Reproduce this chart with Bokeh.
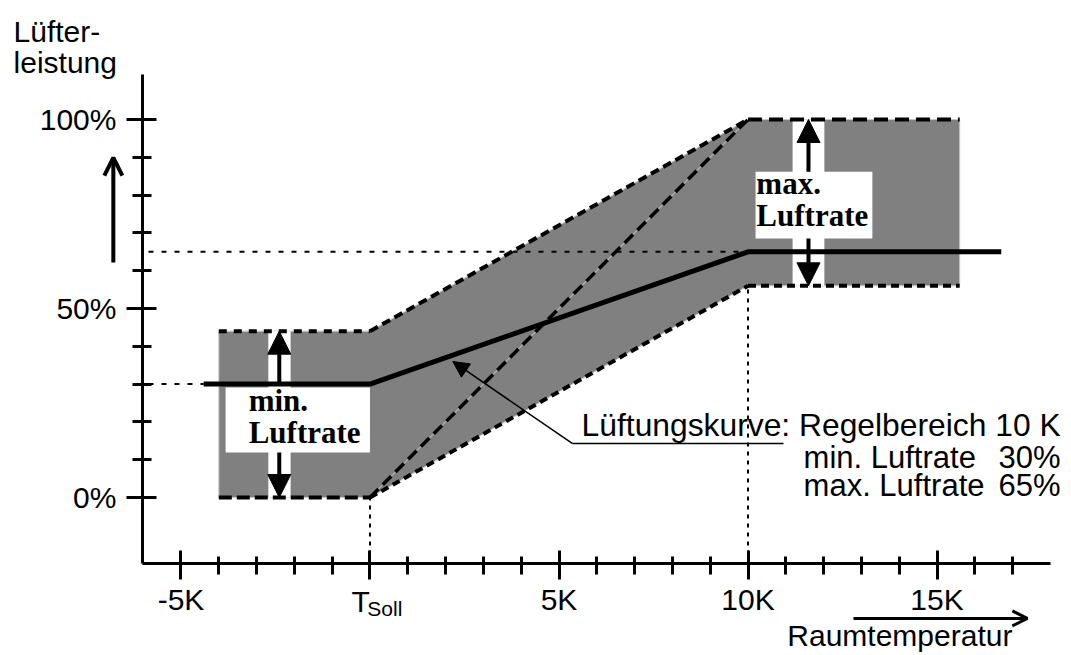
from bokeh.plotting import figure
from bokeh.models import (FixedTicker, Label, Arrow, NormalHead, OpenHead, Range1d)
from bokeh.embed import file_html
from bokeh.resources import INLINE

# ---- data ----
band_x = [-4, -4, 0, 10, 15.6, 15.6, 10, 0]          # control band (K)
band_y = [0, 44, 44, 100, 100, 56, 56, 0]             # fan power (%)
curve_x = [-4.4, 0, 10, 16.7]                          # ventilation curve
curve_y = [30, 30, 65, 65]
diag_x = [0, 10]                                       # steepest curve
diag_y = [0, 100]
min_rate = 30
max_rate = 65
x_major = [-5, 0, 5, 10, 15]
x_minor = [-4, -3, -2, -1, 1, 2, 3, 4, 6, 7, 8, 9, 11, 12, 13, 14, 16, 17]
x_labels = {-5: "-5K", 0: "", 5: "5K", 10: "10K", 15: "15K"}
y_major = [0, 50, 100]
y_minor = [10, 20, 30, 40, 60, 70, 80, 90]
y_labels = {0: "0%", 50: "50%", 100: "100%"}
x_axis_span = (-6.02, 18.0)
y_axis_span = (-17.46, 111.9)

SANS = "Liberation Sans"
SERIF = "Liberation Serif"

p = figure(width=1071, height=655, output_backend="svg", toolbar_location=None,
           x_range=Range1d(-9.775, 18.558), y_range=Range1d(-41.80, 131.48))
p.min_border = 0
p.min_border_left = 0
p.min_border_right = 0
p.min_border_top = 0
p.min_border_bottom = 0
p.outline_line_color = None
p.xgrid.visible = False
p.ygrid.visible = False
p.background_fill_color = "white"
p.border_fill_color = "white"

# axes (drawn at fixed positions inside the canvas)
xa = p.xaxis[0]
xa.ticker = FixedTicker(ticks=x_major, minor_ticks=x_minor)
xa.major_label_overrides = x_labels
xa.fixed_location = y_axis_span[0]
xa.bounds = x_axis_span
ya = p.yaxis[0]
ya.ticker = FixedTicker(ticks=y_major, minor_ticks=y_minor)
ya.major_label_overrides = y_labels
ya.fixed_location = x_axis_span[0]
ya.bounds = y_axis_span
for ax in (xa, ya):
    ax.axis_line_width = 3
    ax.axis_line_color = "black"
    ax.major_tick_line_width = 3
    ax.minor_tick_line_width = 3
    ax.major_tick_line_color = "black"
    ax.minor_tick_line_color = "black"
    ax.major_label_text_font = SANS
    ax.major_label_text_font_size = "30px"
    ax.major_label_text_color = "black"
xa.major_tick_in = 13
xa.major_tick_out = 16
xa.minor_tick_in = 7
xa.minor_tick_out = 11
xa.major_label_standoff = 4
ya.major_tick_in = 14
ya.major_tick_out = 16
ya.minor_tick_in = 9
ya.minor_tick_out = 10
ya.major_label_standoff = 10

# gray band
p.patch(band_x, band_y, fill_color="#808080", line_color="#c8c8c8", line_width=1)

# white boxes / strips behind arrows
p.quad(left=[-2.69, 11.18], right=[-2.10, 12.02], bottom=[0, 56], top=[44, 100],
       fill_color="white", line_color=None)
p.quad(left=[-3.82, 10.2], right=[0.0, 13.29], bottom=[11.9, 68.5], top=[29.1, 86.2],
       fill_color="white", line_color=None)

# dotted reference lines
p.line([-5.86, curve_x[0]], [min_rate, min_rate], line_color="black", line_width=2, line_dash="5 8")
p.line([-5.86, 10], [max_rate, max_rate], line_color="black", line_width=2, line_dash="5 8")
p.line([0, 0], [y_axis_span[0], 0], line_color="black", line_width=2, line_dash="4 5")
p.line([10, 10], [y_axis_span[0], 56], line_color="black", line_width=2, line_dash="4 5")

# dashed band edges
p.line(diag_x, diag_y, line_color="#d0d0d0", line_width=1)
p.line(diag_x, diag_y, line_color="black", line_width=3.5, line_dash="12 6")
p.line([-4, 0], [44, 44], line_color="black", line_width=4, line_dash="8 7")
p.line([0, 10], [44, 100], line_color="black", line_width=4, line_dash="9 5")
p.line([10, 15.6], [100, 100], line_color="black", line_width=4, line_dash="14 7")
p.line([-4, 0], [0, 0], line_color="black", line_width=4, line_dash="13 5")
p.line([0, 10], [0, 56], line_color="black", line_width=4, line_dash="8 5")
p.line([10, 15.6], [56, 56], line_color="black", line_width=4, line_dash="8 5")

# main curve
p.line(curve_x, curve_y, line_color="black", line_width=5)

# pointer underline
p.line([5.35, 10.94], [14.29, 14.29], line_color="black", line_width=1.5)

def arrow(x0, y0, x1, y1, size=23, lw=4):
    p.add_layout(Arrow(end=NormalHead(size=size, fill_color="black", line_color="black"),
                       x_start=x0, y_start=y0, x_end=x1, y_end=y1,
                       line_width=lw, line_color="black"))

# min / max arrows
arrow(-2.4, 30, -2.4, 44)
arrow(-2.4, 11.9, -2.4, 0)
arrow(11.6, 86.2, 11.6, 100)
arrow(11.6, 68.5, 11.6, 56)
# pointer arrow
p.add_layout(Arrow(end=NormalHead(size=16, fill_color="black", line_color="black"),
                   x_start=5.35, y_start=14.29, x_end=2.19, y_end=35.98,
                   line_width=1.5, line_color="black"))
# axis direction arrows
p.add_layout(Arrow(end=OpenHead(size=18, line_width=4, line_color="black"),
                   x_start=-6.79, y_start=62.2, x_end=-6.79, y_end=89.9,
                   line_width=4, line_color="black"))
p.add_layout(Arrow(end=OpenHead(size=15, line_width=3, line_color="black"),
                   x_start=12.79, y_start=-32.0, x_end=17.39, y_end=-32.0,
                   line_width=3, line_color="black"))

DY = 2.65  # baseline correction (~10px)

def label(x, y, text, size="30px", font=SANS, style="normal", align="left"):
    p.add_layout(Label(x=x, y=y + DY, text=text, text_font=font, text_font_size=size,
                       text_font_style=style, text_align=align,
                       text_baseline="alphabetic", text_color="black"))

label(-9.43, 120.5, "Lüfter-")
label(-9.43, 112.5, "leistung")
label(11.04, -39.15, "Raumtemperatur")
label(-0.49, -30.2, "T")
label(-0.07, -32.0, "Soll", size="21px")

label(-3.21, 23.0, "min.", size="31px", font=SERIF, style="bold")
label(-3.21, 14.55, "Luftrate", size="31px", font=SERIF, style="bold")
label(10.22, 80.4, "max.", size="31px", font=SERIF, style="bold")
label(10.22, 72.0, "Luftrate", size="31px", font=SERIF, style="bold")

label(18.27, 16.4, "Lüftungskurve: Regelbereich 10 K", size="31.8px", align="right")
label(11.47, 7.94, "min. Luftrate", size="31px")
label(18.27, 7.94, "30%", size="31px", align="right")
label(11.47, 0.53, "max. Luftrate", size="31px")
label(18.27, 0.53, "65%", size="31px", align="right")

open("out.html", "w").write(file_html(p, INLINE))
